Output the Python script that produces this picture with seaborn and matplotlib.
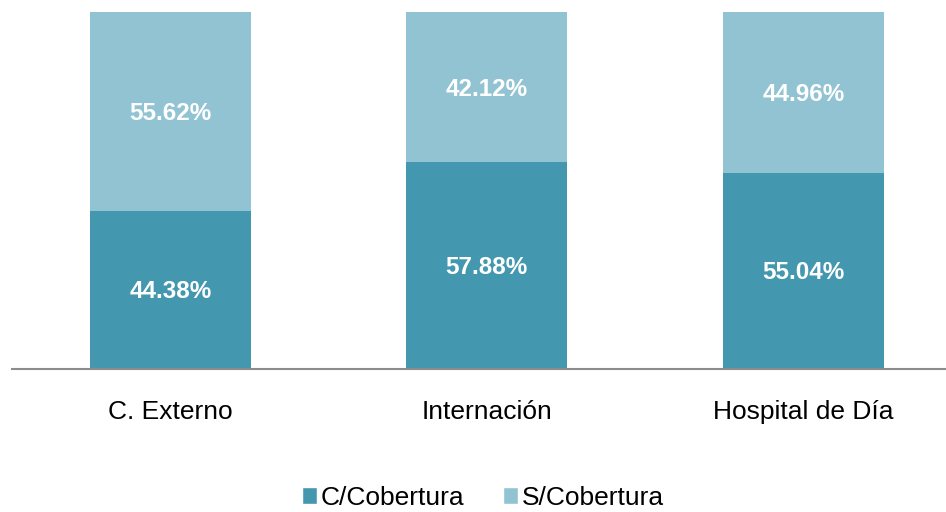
import matplotlib
matplotlib.use("Agg")
import matplotlib.pyplot as plt
import seaborn as sns
import pandas as pd
from matplotlib.patches import Patch

categories = ["C. Externo", "Internación", "Hospital de Día"]
con_cobertura = [44.38, 57.88, 55.04]
sin_cobertura = [55.62, 42.12, 44.96]
series_names = ["C/Cobertura", "S/Cobertura"]
colors = ["#4397AE", "#92C3D3"]

sns.set_theme(style="white")
plt.rcParams["font.family"] = ["Liberation Sans", "DejaVu Sans"]

fig = plt.figure(figsize=(9.46, 5.12), dpi=100)
ax = fig.add_axes([12/946, 1 - 369/512, 1 - 12/946, (369 - 12)/512])

df = pd.DataFrame({"cat": categories, "c": con_cobertura, "s": sin_cobertura})
df["total"] = df["c"] + df["s"]

sns.barplot(data=df, x="cat", y="total", color=colors[1], width=0.51, ax=ax,
            saturation=1, linewidth=0)
sns.barplot(data=df, x="cat", y="c", color=colors[0], width=0.51, ax=ax,
            saturation=1, linewidth=0)

for i, (c, s) in enumerate(zip(con_cobertura, sin_cobertura)):
    ax.text(i, c / 2 - 0.6, f"{c:.2f}%", ha="center", va="center", color="white",
            fontsize=17.5, fontweight="bold")
    ax.text(i, c + s / 2 - 0.6, f"{s:.2f}%", ha="center", va="center", color="white",
            fontsize=17.5, fontweight="bold")

ax.set_xlim(-0.5, 2.451)
ax.set_ylim(0, 100)
ax.set_xlabel("")
ax.set_ylabel("")
ax.set_yticks([])
for side in ["top", "right", "left"]:
    ax.spines[side].set_visible(False)
ax.spines["bottom"].set_color("#8C8C8C")
ax.spines["bottom"].set_linewidth(1.5)
ax.tick_params(axis="x", length=0, pad=22, labelsize=19, labelcolor="black")

handles = [Patch(facecolor=colors[0], label=series_names[0]),
           Patch(facecolor=colors[1], label=series_names[1])]
fig.legend(handles=handles, loc="center", bbox_to_anchor=(483/946, 1 - 498/512),
           ncol=2, frameon=False, fontsize=19, handlelength=0.58, handleheight=0.58,
           handletextpad=0.15, columnspacing=1.45, borderpad=0, borderaxespad=0,
           labelcolor="black")

fig.savefig("out.png", dpi=100)
